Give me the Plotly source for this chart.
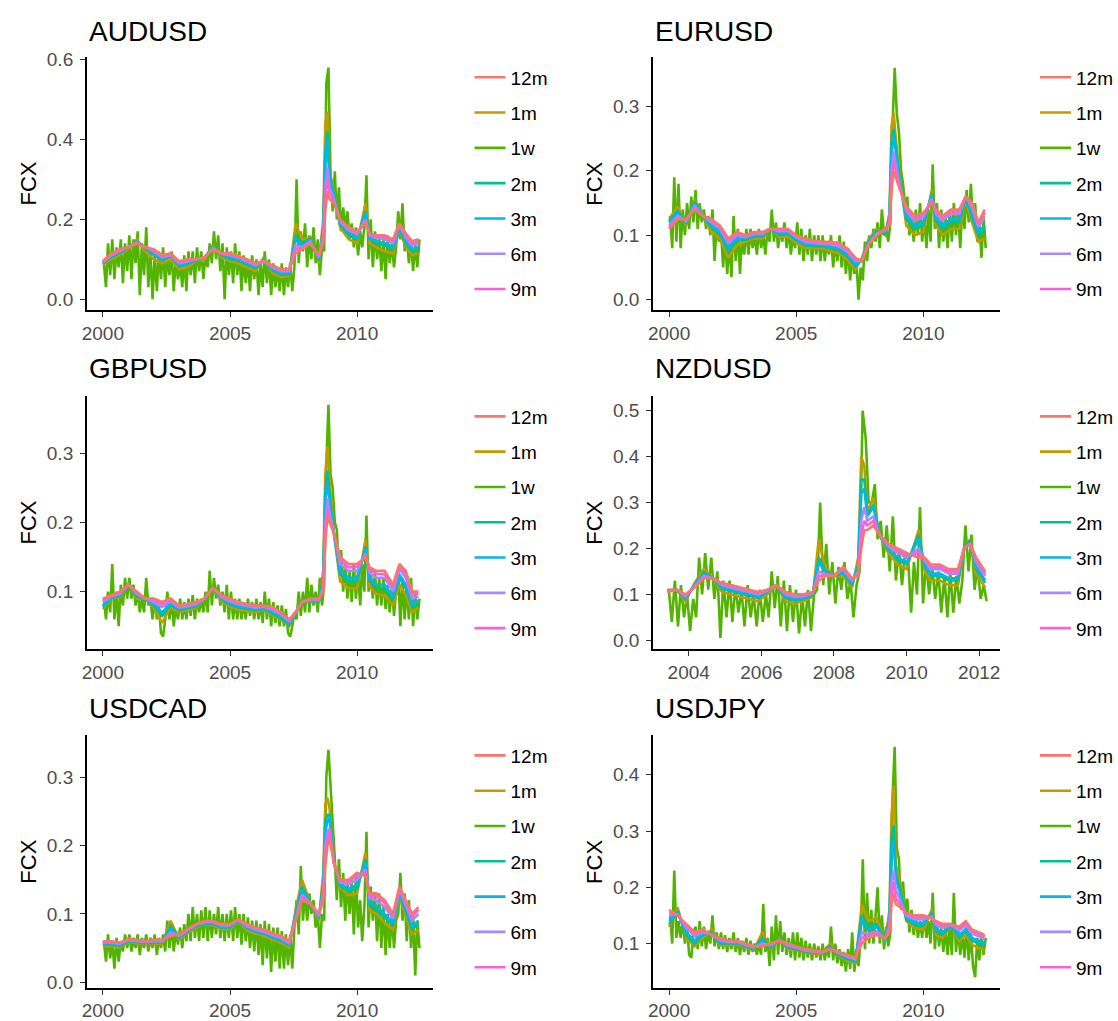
import pandas as pd
import plotly.graph_objects as go

# ---------------- data ----------------
TENORS_LEGEND = ["12m", "1m", "1w", "2m", "3m", "6m", "9m"]
DRAW_ORDER = ["1w", "1m", "2m", "3m", "6m", "9m", "12m"]
COLORS = {"12m": "#F8766D", "1m": "#C49A00", "1w": "#53B400", "2m": "#00C094",
          "3m": "#00B6EB", "6m": "#A58AFF", "9m": "#FB61D7"}

GRID_DATES = ["2000-01", "2000-05", "2000-09", "2001-01", "2001-05", "2001-09", "2002-01", "2002-05",
              "2002-09", "2003-01", "2003-05", "2003-09", "2004-01", "2004-05", "2004-09", "2005-01",
              "2005-05", "2005-09", "2006-01", "2006-05", "2006-09", "2007-01", "2007-05", "2007-08",
              "2007-11", "2008-03", "2008-07", "2008-09", "2008-10", "2008-11", "2008-12", "2009-02",
              "2009-05", "2009-09", "2010-01", "2010-05", "2010-07", "2010-10", "2011-02", "2011-06",
              "2011-09", "2011-12", "2012-03", "2012-06"]
NZD_DATES = ["2003-06", "2003-09", "2003-12", "2004-03", "2004-06", "2004-09", "2004-12", "2005-03",
             "2005-06", "2005-09", "2005-12", "2006-03", "2006-06", "2006-09", "2006-12", "2007-03",
             "2007-06", "2007-08", "2007-10", "2008-01", "2008-04", "2008-07", "2008-09", "2008-10",
             "2008-11", "2008-12", "2009-02", "2009-04", "2009-07", "2009-10", "2010-01", "2010-05",
             "2010-07", "2010-09", "2010-12", "2011-03", "2011-06", "2011-08", "2011-10", "2011-12",
             "2012-03"]
WEEK_START_MAIN = "2000-01-01"   # monthly sampled 1w series
WEEK_START_NZD = "2003-06-01"

# AUDUSD
AUD_12M = [0.095,0.115,0.125,0.13,0.14,0.13,0.125,0.11,0.115,0.095,0.10,0.10,0.105,0.125,0.115,0.115,0.108,0.10,0.09,0.095,0.085,0.075,0.075,0.115,0.125,0.14,0.11,0.14,0.22,0.27,0.25,0.24,0.20,0.18,0.17,0.19,0.165,0.16,0.16,0.15,0.19,0.165,0.145,0.15]
AUD_9M = [0.093,0.113,0.123,0.13,0.14,0.13,0.122,0.108,0.113,0.093,0.098,0.10,0.105,0.127,0.115,0.113,0.106,0.098,0.088,0.095,0.083,0.072,0.073,0.125,0.128,0.142,0.108,0.15,0.25,0.30,0.27,0.245,0.198,0.177,0.167,0.195,0.163,0.157,0.155,0.146,0.188,0.16,0.14,0.145]
AUD_6M = [0.092,0.11,0.12,0.13,0.142,0.13,0.12,0.105,0.11,0.09,0.095,0.10,0.105,0.128,0.114,0.11,0.104,0.095,0.085,0.096,0.08,0.07,0.07,0.135,0.13,0.145,0.105,0.16,0.28,0.33,0.28,0.25,0.195,0.173,0.163,0.20,0.16,0.153,0.15,0.14,0.185,0.155,0.135,0.14]
AUD_3M = [0.09,0.108,0.12,0.13,0.145,0.13,0.115,0.10,0.11,0.085,0.09,0.098,0.105,0.13,0.112,0.105,0.10,0.09,0.08,0.098,0.075,0.065,0.065,0.15,0.135,0.15,0.10,0.17,0.34,0.40,0.30,0.26,0.19,0.165,0.155,0.215,0.155,0.145,0.14,0.13,0.18,0.145,0.125,0.13]
AUD_2M = [0.09,0.105,0.117,0.128,0.145,0.128,0.11,0.098,0.108,0.082,0.088,0.097,0.104,0.132,0.11,0.10,0.097,0.087,0.078,0.10,0.072,0.062,0.062,0.16,0.14,0.152,0.097,0.18,0.37,0.42,0.31,0.265,0.187,0.16,0.15,0.22,0.15,0.14,0.135,0.125,0.178,0.14,0.12,0.125]
AUD_1M = [0.088,0.10,0.112,0.125,0.15,0.12,0.10,0.09,0.10,0.075,0.08,0.095,0.10,0.135,0.105,0.095,0.09,0.08,0.07,0.105,0.065,0.055,0.058,0.19,0.15,0.155,0.09,0.20,0.44,0.47,0.32,0.27,0.18,0.15,0.14,0.24,0.14,0.13,0.12,0.115,0.175,0.13,0.11,0.115]
AUD_1W = [0.09,0.03,0.14,0.06,0.15,0.05,0.13,0.08,0.15,0.04,0.14,0.07,
          0.16,0.05,0.15,0.09,0.17,0.01,0.14,0.06,0.18,0.03,0.12,0.00,
          0.11,0.02,0.12,0.05,0.13,0.03,0.11,0.06,0.12,0.02,0.10,0.05,
          0.09,0.03,0.11,0.02,0.12,0.06,0.12,0.04,0.13,0.07,0.12,0.05,
          0.11,0.08,0.14,0.09,0.17,0.10,0.16,0.07,0.14,0.00,0.13,0.06,
          0.12,0.04,0.14,0.06,0.12,0.02,0.11,0.04,0.10,0.02,0.11,0.05,
          0.10,0.01,0.09,0.03,0.12,0.04,0.10,0.01,0.09,0.03,0.08,0.02,
          0.09,0.01,0.08,0.03,0.09,0.02,0.08,0.30,0.09,0.17,0.12,0.19,
          0.08,0.16,0.10,0.18,0.09,0.15,0.06,0.13,0.12,0.54,0.58,0.32,
          0.22,0.32,0.20,0.28,0.17,0.23,0.18,0.22,0.15,0.19,0.13,0.18,
          0.11,0.17,0.13,0.18,0.31,0.10,0.20,0.08,0.17,0.10,0.16,0.07,
          0.15,0.05,0.16,0.09,0.14,0.08,0.13,0.22,0.15,0.24,0.12,0.16,
          0.09,0.15,0.07,0.14,0.08,0.15]

# EURUSD
EUR_12M = [0.11,0.125,0.125,0.14,0.13,0.125,0.115,0.095,0.105,0.10,0.105,0.105,0.11,0.11,0.11,0.10,0.095,0.092,0.09,0.09,0.088,0.08,0.065,0.06,0.085,0.10,0.11,0.115,0.17,0.20,0.19,0.17,0.145,0.13,0.135,0.15,0.14,0.13,0.14,0.14,0.16,0.15,0.12,0.14]
EUR_9M = [0.112,0.127,0.124,0.142,0.13,0.123,0.113,0.092,0.103,0.099,0.104,0.104,0.11,0.108,0.109,0.099,0.093,0.09,0.089,0.088,0.086,0.078,0.063,0.06,0.085,0.101,0.109,0.117,0.185,0.215,0.20,0.172,0.142,0.127,0.132,0.153,0.137,0.127,0.137,0.137,0.16,0.147,0.117,0.135]
EUR_6M = [0.115,0.13,0.122,0.145,0.13,0.12,0.11,0.088,0.10,0.097,0.102,0.102,0.11,0.106,0.107,0.097,0.09,0.088,0.087,0.086,0.083,0.075,0.06,0.06,0.086,0.103,0.107,0.12,0.20,0.23,0.21,0.175,0.138,0.122,0.128,0.157,0.133,0.123,0.133,0.133,0.16,0.143,0.113,0.128]
EUR_3M = [0.12,0.135,0.12,0.15,0.13,0.115,0.105,0.08,0.095,0.095,0.10,0.10,0.11,0.103,0.104,0.094,0.087,0.085,0.085,0.083,0.08,0.07,0.055,0.06,0.088,0.105,0.104,0.125,0.23,0.255,0.23,0.18,0.13,0.115,0.12,0.162,0.126,0.115,0.125,0.125,0.16,0.135,0.105,0.115]
EUR_2M = [0.122,0.138,0.118,0.152,0.13,0.112,0.102,0.075,0.092,0.093,0.098,0.098,0.11,0.10,0.102,0.092,0.085,0.083,0.083,0.08,0.077,0.067,0.052,0.062,0.09,0.107,0.102,0.128,0.245,0.265,0.24,0.182,0.125,0.11,0.115,0.165,0.122,0.11,0.12,0.12,0.158,0.13,0.10,0.108]
EUR_1M = [0.125,0.145,0.115,0.155,0.13,0.105,0.095,0.065,0.085,0.09,0.095,0.095,0.11,0.097,0.098,0.088,0.08,0.08,0.08,0.076,0.072,0.062,0.047,0.065,0.092,0.11,0.10,0.135,0.27,0.29,0.25,0.185,0.115,0.10,0.105,0.17,0.115,0.10,0.11,0.11,0.155,0.12,0.09,0.095]
EUR_1W = [0.13,0.08,0.19,0.09,0.18,0.08,0.14,0.10,0.15,0.11,0.16,0.12,
          0.17,0.11,0.15,0.12,0.14,0.11,0.13,0.10,0.14,0.06,0.12,0.09,
          0.11,0.05,0.10,0.04,0.09,0.035,0.13,0.06,0.11,0.04,0.10,0.07,
          0.11,0.07,0.11,0.08,0.10,0.07,0.11,0.08,0.10,0.07,0.11,0.09,
          0.14,0.09,0.12,0.08,0.11,0.09,0.12,0.08,0.11,0.07,0.10,0.08,
          0.12,0.07,0.11,0.06,0.10,0.07,0.11,0.06,0.10,0.07,0.10,0.06,
          0.10,0.06,0.09,0.07,0.10,0.05,0.09,0.06,0.10,0.05,0.09,0.04,
          0.08,0.03,0.07,0.04,0.06,0.00,0.05,0.03,0.09,0.06,0.10,0.08,
          0.11,0.09,0.12,0.08,0.14,0.10,0.11,0.09,0.12,0.27,0.36,0.29,
          0.26,0.20,0.18,0.14,0.16,0.10,0.13,0.09,0.14,0.10,0.15,0.09,
          0.13,0.08,0.14,0.09,0.21,0.11,0.15,0.08,0.14,0.09,0.13,0.08,
          0.14,0.09,0.15,0.10,0.14,0.08,0.15,0.11,0.17,0.12,0.18,0.12,
          0.15,0.09,0.12,0.065,0.13,0.08]

# GBPUSD
GBP_12M = [0.09,0.095,0.10,0.11,0.10,0.09,0.09,0.085,0.09,0.08,0.082,0.085,0.09,0.105,0.095,0.09,0.085,0.082,0.08,0.08,0.078,0.07,0.06,0.07,0.085,0.09,0.09,0.10,0.17,0.21,0.20,0.185,0.15,0.14,0.14,0.15,0.135,0.13,0.13,0.11,0.14,0.13,0.10,0.10]
GBP_9M = [0.088,0.094,0.099,0.11,0.099,0.09,0.088,0.082,0.088,0.079,0.081,0.084,0.09,0.105,0.094,0.088,0.084,0.081,0.079,0.079,0.076,0.069,0.059,0.07,0.085,0.089,0.089,0.103,0.185,0.22,0.205,0.185,0.146,0.135,0.136,0.152,0.132,0.126,0.125,0.106,0.137,0.126,0.096,0.097]
GBP_6M = [0.085,0.093,0.097,0.11,0.097,0.09,0.085,0.078,0.086,0.077,0.079,0.082,0.09,0.105,0.092,0.086,0.082,0.079,0.077,0.078,0.074,0.067,0.057,0.07,0.085,0.088,0.088,0.107,0.20,0.235,0.215,0.185,0.14,0.13,0.13,0.155,0.127,0.12,0.12,0.10,0.133,0.12,0.09,0.093]
GBP_3M = [0.08,0.092,0.095,0.11,0.095,0.09,0.082,0.07,0.083,0.075,0.077,0.08,0.09,0.105,0.09,0.083,0.079,0.077,0.075,0.076,0.071,0.064,0.054,0.07,0.086,0.087,0.087,0.115,0.23,0.26,0.23,0.185,0.13,0.12,0.12,0.16,0.12,0.11,0.11,0.092,0.125,0.11,0.082,0.087]
GBP_2M = [0.078,0.091,0.094,0.11,0.093,0.09,0.08,0.065,0.081,0.073,0.076,0.079,0.09,0.105,0.089,0.081,0.077,0.075,0.073,0.075,0.069,0.062,0.052,0.07,0.087,0.086,0.086,0.12,0.245,0.275,0.24,0.185,0.125,0.115,0.115,0.165,0.115,0.105,0.105,0.088,0.12,0.105,0.078,0.083]
GBP_1M = [0.075,0.09,0.092,0.11,0.09,0.09,0.077,0.055,0.078,0.07,0.073,0.077,0.09,0.106,0.086,0.078,0.074,0.072,0.07,0.073,0.066,0.06,0.05,0.07,0.088,0.085,0.085,0.13,0.27,0.31,0.26,0.185,0.115,0.105,0.105,0.175,0.107,0.097,0.095,0.08,0.11,0.095,0.07,0.077]
GBP_1W = [0.09,0.06,0.10,0.07,0.14,0.06,0.10,0.05,0.11,0.08,0.12,0.09,
          0.12,0.09,0.11,0.08,0.10,0.07,0.09,0.07,0.12,0.08,0.09,0.06,
          0.09,0.06,0.08,0.04,0.035,0.06,0.10,0.06,0.09,0.05,0.08,0.06,
          0.09,0.06,0.085,0.06,0.09,0.065,0.095,0.06,0.09,0.07,0.09,0.07,
          0.10,0.07,0.13,0.08,0.12,0.09,0.11,0.08,0.10,0.07,0.11,0.06,
          0.10,0.06,0.09,0.06,0.09,0.06,0.085,0.06,0.09,0.065,0.085,0.06,
          0.09,0.06,0.085,0.055,0.10,0.06,0.09,0.05,0.085,0.055,0.08,0.05,
          0.08,0.05,0.075,0.04,0.035,0.05,0.07,0.06,0.10,0.065,0.10,0.07,
          0.12,0.07,0.11,0.08,0.10,0.07,0.12,0.08,0.11,0.28,0.37,0.27,
          0.25,0.20,0.19,0.13,0.16,0.10,0.14,0.09,0.13,0.085,0.14,0.09,
          0.13,0.08,0.14,0.10,0.21,0.10,0.13,0.09,0.13,0.08,0.12,0.08,
          0.12,0.075,0.11,0.07,0.11,0.065,0.10,0.13,0.05,0.12,0.06,0.11,
          0.06,0.12,0.05,0.10,0.06,0.09]

# NZDUSD
NZD_12M = [0.105,0.11,0.10,0.115,0.135,0.135,0.125,0.12,0.115,0.11,0.105,0.11,0.12,0.105,0.10,0.10,0.105,0.13,0.14,0.14,0.16,0.135,0.14,0.20,0.24,0.24,0.25,0.23,0.21,0.20,0.19,0.18,0.18,0.165,0.165,0.155,0.155,0.20,0.21,0.18,0.15]
NZD_9M = [0.106,0.11,0.098,0.116,0.137,0.135,0.123,0.118,0.113,0.108,0.103,0.109,0.12,0.103,0.098,0.098,0.104,0.14,0.142,0.14,0.158,0.133,0.145,0.23,0.26,0.25,0.26,0.23,0.208,0.195,0.185,0.19,0.177,0.16,0.16,0.15,0.15,0.20,0.21,0.175,0.145]
NZD_6M = [0.107,0.11,0.096,0.117,0.14,0.135,0.12,0.115,0.11,0.105,0.10,0.108,0.12,0.10,0.095,0.096,0.102,0.15,0.145,0.14,0.155,0.13,0.15,0.26,0.29,0.26,0.27,0.23,0.205,0.19,0.18,0.20,0.173,0.155,0.155,0.145,0.145,0.20,0.21,0.17,0.14]
NZD_3M = [0.108,0.11,0.092,0.12,0.145,0.135,0.115,0.11,0.105,0.10,0.095,0.106,0.12,0.095,0.09,0.092,0.10,0.17,0.15,0.14,0.15,0.125,0.16,0.32,0.33,0.27,0.29,0.23,0.20,0.18,0.17,0.22,0.165,0.145,0.145,0.135,0.135,0.20,0.215,0.16,0.13]
NZD_2M = [0.109,0.11,0.09,0.122,0.148,0.135,0.112,0.107,0.102,0.097,0.092,0.105,0.12,0.092,0.087,0.09,0.098,0.18,0.153,0.14,0.147,0.12,0.165,0.35,0.35,0.275,0.295,0.23,0.197,0.175,0.165,0.23,0.16,0.14,0.14,0.13,0.13,0.20,0.218,0.155,0.125]
NZD_1M = [0.11,0.11,0.085,0.125,0.155,0.135,0.105,0.10,0.095,0.09,0.085,0.10,0.12,0.085,0.08,0.085,0.095,0.22,0.16,0.14,0.14,0.115,0.18,0.40,0.38,0.28,0.31,0.23,0.19,0.165,0.155,0.24,0.15,0.13,0.13,0.12,0.12,0.20,0.22,0.145,0.115]
NZD_1W = [0.11,0.04,0.13,0.03,0.12,0.05,0.10,
          0.02,0.09,0.05,0.18,0.10,0.19,0.11,0.18,0.09,0.15,0.005,0.13,
          0.05,0.13,0.04,0.12,0.06,0.11,0.03,0.12,0.05,0.10,0.03,0.11,
          0.04,0.10,0.05,0.15,0.07,0.14,0.03,0.13,0.02,0.12,0.04,0.11,
          0.015,0.10,0.03,0.11,0.02,0.10,0.11,0.30,0.12,0.21,0.10,0.17,
          0.08,0.16,0.11,0.17,0.09,0.13,0.05,0.12,0.15,0.50,0.44,0.30,
          0.30,0.34,0.22,0.26,0.18,0.25,0.15,0.27,0.13,0.20,0.12,0.19,
          0.18,0.06,0.17,0.10,0.29,0.08,0.17,0.10,0.16,0.09,0.15,0.06,
          0.14,0.05,0.15,0.06,0.14,0.08,0.13,0.25,0.15,0.23,0.11,0.16,
          0.09,0.12,0.085]

# USDCAD
CAD_12M = [0.06,0.06,0.058,0.063,0.062,0.06,0.062,0.062,0.068,0.07,0.078,0.085,0.09,0.09,0.085,0.085,0.092,0.085,0.08,0.077,0.072,0.068,0.06,0.09,0.12,0.115,0.10,0.12,0.17,0.20,0.21,0.175,0.15,0.15,0.16,0.155,0.13,0.13,0.12,0.10,0.14,0.12,0.10,0.11]
CAD_9M = [0.059,0.059,0.057,0.063,0.061,0.06,0.061,0.061,0.07,0.069,0.077,0.085,0.089,0.089,0.084,0.084,0.092,0.084,0.079,0.076,0.071,0.067,0.059,0.092,0.124,0.115,0.099,0.125,0.185,0.21,0.22,0.175,0.148,0.147,0.156,0.16,0.127,0.126,0.116,0.097,0.138,0.117,0.096,0.106]
CAD_6M = [0.058,0.058,0.056,0.062,0.06,0.059,0.06,0.06,0.073,0.068,0.076,0.084,0.088,0.088,0.083,0.083,0.091,0.082,0.077,0.074,0.069,0.065,0.057,0.094,0.128,0.115,0.097,0.13,0.20,0.22,0.225,0.175,0.146,0.143,0.15,0.165,0.123,0.12,0.11,0.093,0.136,0.113,0.09,0.10]
CAD_3M = [0.056,0.056,0.054,0.061,0.059,0.058,0.059,0.059,0.078,0.066,0.075,0.083,0.087,0.086,0.081,0.081,0.09,0.08,0.075,0.072,0.066,0.062,0.055,0.098,0.135,0.115,0.095,0.14,0.22,0.235,0.24,0.175,0.143,0.137,0.142,0.175,0.116,0.112,0.10,0.087,0.132,0.107,0.082,0.09]
CAD_2M = [0.055,0.055,0.053,0.06,0.058,0.057,0.058,0.058,0.082,0.065,0.074,0.082,0.086,0.085,0.08,0.08,0.09,0.079,0.074,0.071,0.065,0.061,0.054,0.10,0.14,0.115,0.093,0.145,0.235,0.245,0.245,0.175,0.141,0.133,0.137,0.18,0.112,0.107,0.095,0.083,0.13,0.103,0.078,0.085]
CAD_1M = [0.053,0.053,0.051,0.059,0.057,0.056,0.057,0.056,0.09,0.063,0.072,0.08,0.085,0.083,0.078,0.078,0.089,0.076,0.071,0.068,0.062,0.058,0.051,0.105,0.15,0.115,0.09,0.16,0.26,0.27,0.255,0.175,0.138,0.127,0.13,0.19,0.105,0.10,0.087,0.077,0.125,0.097,0.07,0.077]
CAD_1W = [0.06,0.03,0.07,0.035,0.06,0.02,0.065,0.03,0.06,0.045,0.07,0.05,
          0.07,0.045,0.065,0.05,0.07,0.04,0.065,0.05,0.07,0.045,0.065,0.05,
          0.07,0.04,0.065,0.05,0.07,0.045,0.09,0.05,0.085,0.045,0.075,0.055,
          0.08,0.05,0.085,0.06,0.10,0.06,0.11,0.065,0.10,0.06,0.105,0.065,
          0.11,0.06,0.105,0.065,0.10,0.07,0.11,0.065,0.10,0.06,0.10,0.065,
          0.105,0.06,0.11,0.065,0.10,0.055,0.10,0.06,0.095,0.05,0.09,0.045,
          0.09,0.04,0.085,0.025,0.09,0.035,0.085,0.015,0.08,0.03,0.08,0.02,
          0.075,0.02,0.07,0.025,0.07,0.02,0.08,0.12,0.07,0.17,0.09,0.13,
          0.09,0.13,0.10,0.12,0.08,0.10,0.05,0.10,0.09,0.30,0.34,0.29,
          0.24,0.18,0.12,0.18,0.11,0.16,0.09,0.15,0.10,0.15,0.07,0.16,
          0.08,0.12,0.06,0.11,0.22,0.08,0.14,0.09,0.13,0.06,0.13,0.05,
          0.11,0.04,0.10,0.05,0.10,0.05,0.09,0.10,0.16,0.09,0.13,0.06,
          0.12,0.05,0.10,0.01,0.09,0.05]

# USDJPY
JPY_12M = [0.16,0.15,0.135,0.12,0.125,0.115,0.11,0.105,0.105,0.10,0.095,0.095,0.10,0.105,0.10,0.095,0.09,0.088,0.085,0.09,0.085,0.08,0.075,0.10,0.11,0.115,0.11,0.12,0.17,0.19,0.17,0.165,0.155,0.15,0.15,0.145,0.14,0.135,0.135,0.13,0.14,0.125,0.12,0.115]
JPY_9M = [0.155,0.15,0.132,0.117,0.123,0.115,0.108,0.104,0.104,0.099,0.094,0.097,0.099,0.105,0.099,0.094,0.089,0.087,0.085,0.09,0.084,0.079,0.074,0.11,0.113,0.118,0.109,0.125,0.19,0.21,0.18,0.17,0.153,0.147,0.147,0.146,0.137,0.132,0.134,0.127,0.137,0.122,0.117,0.112]
JPY_6M = [0.15,0.152,0.128,0.113,0.12,0.116,0.106,0.103,0.103,0.098,0.093,0.10,0.097,0.106,0.097,0.093,0.088,0.086,0.084,0.091,0.083,0.077,0.072,0.12,0.117,0.122,0.108,0.13,0.21,0.23,0.195,0.178,0.15,0.143,0.143,0.148,0.133,0.128,0.133,0.123,0.133,0.118,0.113,0.108]
JPY_3M = [0.14,0.155,0.12,0.105,0.117,0.118,0.103,0.101,0.101,0.096,0.091,0.105,0.095,0.107,0.095,0.091,0.087,0.085,0.083,0.093,0.081,0.075,0.07,0.14,0.125,0.13,0.106,0.14,0.26,0.28,0.215,0.19,0.146,0.137,0.136,0.152,0.126,0.12,0.132,0.115,0.126,0.11,0.105,0.10]
JPY_2M = [0.135,0.158,0.115,0.10,0.115,0.12,0.10,0.10,0.10,0.095,0.09,0.11,0.093,0.108,0.093,0.09,0.086,0.084,0.083,0.095,0.08,0.073,0.068,0.15,0.13,0.135,0.105,0.145,0.29,0.31,0.225,0.197,0.143,0.133,0.132,0.155,0.122,0.116,0.131,0.11,0.122,0.105,0.10,0.096]
JPY_1M = [0.13,0.165,0.11,0.095,0.11,0.125,0.097,0.098,0.098,0.093,0.088,0.12,0.09,0.11,0.09,0.088,0.084,0.082,0.082,0.10,0.078,0.07,0.065,0.17,0.14,0.145,0.103,0.16,0.33,0.38,0.24,0.21,0.14,0.127,0.125,0.16,0.115,0.11,0.13,0.105,0.115,0.098,0.092,0.09]
JPY_1W = [0.15,0.10,0.23,0.11,0.14,0.11,0.14,0.10,0.13,0.08,0.075,0.12,
          0.13,0.09,0.14,0.095,0.13,0.09,0.12,0.10,0.15,0.095,0.12,0.09,
          0.12,0.09,0.115,0.085,0.11,0.09,0.12,0.085,0.11,0.08,0.105,0.085,
          0.11,0.08,0.105,0.085,0.10,0.08,0.10,0.08,0.17,0.085,0.11,0.06,
          0.13,0.07,0.15,0.08,0.14,0.085,0.12,0.08,0.11,0.075,0.12,0.07,
          0.12,0.075,0.11,0.07,0.105,0.075,0.10,0.07,0.10,0.075,0.095,0.07,
          0.10,0.07,0.095,0.075,0.13,0.07,0.10,0.065,0.09,0.06,0.085,0.05,
          0.09,0.055,0.12,0.05,0.09,0.06,0.11,0.25,0.09,0.19,0.10,0.16,
          0.10,0.16,0.20,0.10,0.15,0.09,0.13,0.095,0.12,0.36,0.45,0.27,
          0.25,0.16,0.21,0.15,0.18,0.12,0.16,0.115,0.15,0.11,0.14,0.11,
          0.15,0.11,0.14,0.10,0.19,0.09,0.14,0.095,0.13,0.085,0.13,0.08,
          0.13,0.08,0.19,0.085,0.13,0.08,0.12,0.075,0.13,0.07,0.12,0.06,
          0.04,0.11,0.07,0.12,0.08,0.11]

MAIN_YEAR_TICKS = [2000, 2005, 2010]
NZD_YEAR_TICKS = [2004, 2006, 2008, 2010, 2012]

PANELS = [
    dict(name="AUDUSD", dates=GRID_DATES, wstart=WEEK_START_MAIN,
         series={"12m": AUD_12M, "9m": AUD_9M, "6m": AUD_6M, "3m": AUD_3M, "2m": AUD_2M, "1m": AUD_1M, "1w": AUD_1W},
         yticks=[0.0, 0.2, 0.4, 0.6], yrange=[-0.027, 0.607], xticks=MAIN_YEAR_TICKS,
         xrange=["1999-05-16", "2013-01-01"]),
    dict(name="EURUSD", dates=GRID_DATES, wstart=WEEK_START_MAIN,
         series={"12m": EUR_12M, "9m": EUR_9M, "6m": EUR_6M, "3m": EUR_3M, "2m": EUR_2M, "1m": EUR_1M, "1w": EUR_1W},
         yticks=[0.0, 0.1, 0.2, 0.3], yrange=[-0.016, 0.377], xticks=MAIN_YEAR_TICKS,
         xrange=["1999-05-16", "2013-01-01"]),
    dict(name="GBPUSD", dates=GRID_DATES, wstart=WEEK_START_MAIN,
         series={"12m": GBP_12M, "9m": GBP_9M, "6m": GBP_6M, "3m": GBP_3M, "2m": GBP_2M, "1m": GBP_1M, "1w": GBP_1W},
         yticks=[0.1, 0.2, 0.3], yrange=[0.0165, 0.3835], xticks=MAIN_YEAR_TICKS,
         xrange=["1999-05-16", "2013-01-01"]),
    dict(name="NZDUSD", dates=NZD_DATES, wstart=WEEK_START_NZD,
         series={"12m": NZD_12M, "9m": NZD_9M, "6m": NZD_6M, "3m": NZD_3M, "2m": NZD_2M, "1m": NZD_1M, "1w": NZD_1W},
         yticks=[0.0, 0.1, 0.2, 0.3, 0.4, 0.5], yrange=[-0.02, 0.533], xticks=NZD_YEAR_TICKS,
         xrange=["2003-01-08", "2012-07-24"]),
    dict(name="USDCAD", dates=GRID_DATES, wstart=WEEK_START_MAIN,
         series={"12m": CAD_12M, "9m": CAD_9M, "6m": CAD_6M, "3m": CAD_3M, "2m": CAD_2M, "1m": CAD_1M, "1w": CAD_1W},
         yticks=[0.0, 0.1, 0.2, 0.3], yrange=[-0.008, 0.361], xticks=MAIN_YEAR_TICKS,
         xrange=["1999-05-16", "2013-01-01"]),
    dict(name="USDJPY", dates=GRID_DATES, wstart=WEEK_START_MAIN,
         series={"12m": JPY_12M, "9m": JPY_9M, "6m": JPY_6M, "3m": JPY_3M, "2m": JPY_2M, "1m": JPY_1M, "1w": JPY_1W},
         yticks=[0.1, 0.2, 0.3, 0.4], yrange=[0.0215, 0.470], xticks=MAIN_YEAR_TICKS,
         xrange=["1999-05-16", "2013-01-01"]),
]

# ---------------- layout constants ----------------
W, H = 1118, 1021
FONT = "Liberation Sans, Arial, Helvetica, sans-serif"
XDOM_PX = [(82.3, 430.7), (651.6, 1000.0)]
YDOM_PX = [(49.5, 306.5), (393.3, 651.0), (738.3, 994.3)]
TITLE_MID_PX = [24.2, 366.0, 711.2]
LEGEND_X_PX = [467.0, 1036.0]
RANK = {t: i + 1 for i, t in enumerate(TENORS_LEGEND)}

fig = go.Figure()
annotations = []
layout_upd = {}

for i, p in enumerate(PANELS):
    row, col = divmod(i, 2)
    sfx = "" if i == 0 else str(i + 1)
    xa, ya = "x" + sfx, "y" + sfx
    leg = "legend" + sfx
    x0, x1 = XDOM_PX[col]
    ytop, ybot = YDOM_PX[row]
    wdates = pd.date_range(p["wstart"], periods=len(p["series"]["1w"]), freq="MS") + pd.Timedelta(days=14)

    for t in DRAW_ORDER:
        xs = wdates if t == "1w" else p["dates"]
        fig.add_trace(go.Scatter(
            x=xs, y=p["series"][t], mode="lines", name=t,
            line=dict(color=COLORS[t], width=2.6),
            xaxis=xa, yaxis=ya, legend=leg,
            legendgroup=f"{p['name']}-{t}", legendrank=RANK[t],
            showlegend=True, hoverinfo="skip"))

    layout_upd["xaxis" + sfx] = dict(
        domain=[x0 / W, x1 / W], anchor=ya, type="date", range=p["xrange"],
        tickvals=[f"{y}-01-01" for y in p["xticks"]], ticktext=[str(y) for y in p["xticks"]],
        showline=True, linecolor="black", linewidth=1.7, ticks="outside", ticklen=5,
        tickwidth=1.3, tickcolor="#333333", showgrid=False, zeroline=False,
        tickfont=dict(size=19, color="#4D4D4D", family=FONT))
    layout_upd["yaxis" + sfx] = dict(
        domain=[1 - ybot / H, 1 - ytop / H], anchor=xa, range=p["yrange"],
        tickvals=p["yticks"], ticktext=[f"{v:.1f}" for v in p["yticks"]],
        showline=True, linecolor="black", linewidth=1.7, ticks="outside", ticklen=5,
        tickwidth=1.3, tickcolor="#333333", showgrid=False, zeroline=False,
        ticklabelstandoff=3,
        tickfont=dict(size=19, color="#4D4D4D", family=FONT))
    layout_upd[leg] = dict(
        x=LEGEND_X_PX[col] / W, xanchor="left",
        y=1 - ((ytop + ybot) / 2) / H, yanchor="middle",
        font=dict(size=19, color="black", family=FONT), bgcolor="rgba(0,0,0,0)",
        traceorder="grouped", tracegroupgap=7.6, itemwidth=31, borderwidth=0)

    annotations.append(dict(
        text=p["name"], x=x0 / W, y=1 - TITLE_MID_PX[row] / H, xref="paper", yref="paper",
        xanchor="left", yanchor="middle", showarrow=False,
        font=dict(size=28, color="black", family=FONT)))
    annotations.append(dict(
        text="FCX", x=(23.2 + (569.3 if col else 0)) / W, y=1 - ((ytop + ybot) / 2) / H,
        xref="paper", yref="paper", xanchor="center", yanchor="middle", textangle=-90,
        showarrow=False, font=dict(size=22, color="black", family=FONT)))

fig.update_layout(
    width=W, height=H, margin=dict(l=0, r=0, t=0, b=0),
    paper_bgcolor="white", plot_bgcolor="white",
    font=dict(family=FONT, color="black"),
    annotations=annotations, **layout_upd)

fig.write_html("out.html")
